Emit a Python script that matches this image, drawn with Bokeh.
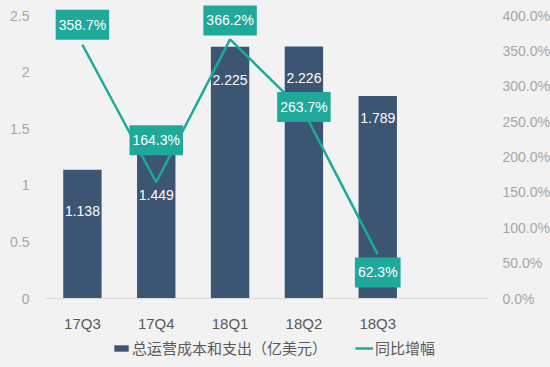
from bokeh.plotting import figure
from bokeh.layouts import column
from bokeh.models import (Range1d, LinearAxis, FixedTicker, PrintfTickFormatter,
                          Legend, LegendItem, ColumnDataSource)
from bokeh.core.properties import value
from bokeh.embed import file_html
from bokeh.resources import INLINE

quarters = ["17Q3", "17Q4", "18Q1", "18Q2", "18Q3"]
cost = [1.138, 1.449, 2.225, 2.226, 1.789]          # 总运营成本和支出（亿美元）
growth = [358.7, 164.3, 366.2, 263.7, 62.3]          # 同比增幅 (%)
left_ticks = [0, 0.5, 1, 1.5, 2, 2.5]
right_ticks = [0, 50, 100, 150, 200, 250, 300, 350, 400]
bar_name = "总运营成本和支出（亿美元）"
line_name = "同比增幅"

# label placement (pixel offsets, layout only)
cost_label_dy = [41, 61, 33, 31, 22]
growth_label_dy = [-20, -42, -19, -5, 18]

BG = "#f2f2f2"
BAR = "#3b5573"
TEAL = "#1fa99a"
NUM_FONT = "Liberation Sans"
CJK_FONT = "Noto Sans CJK SC"

FRAME_H = 298          # frame height in px (top of page to baseline)
AXIS_PX = 283          # px from baseline to top tick
scale = FRAME_H / AXIS_PX
y_top = left_ticks[-1] * scale
r_top = right_ticks[-1] * scale

xs = list(range(len(quarters)))

p = figure(frame_width=443, frame_height=FRAME_H, output_backend="svg", toolbar_location=None,
           x_range=Range1d(-0.5, 5.5), y_range=Range1d(0, y_top),
           min_border_left=45, min_border_right=62, min_border_top=0,
           min_border_bottom=37)
p.background_fill_color = BG
p.border_fill_color = BG
p.outline_line_color = None
p.grid.visible = False

p.extra_y_ranges = {"pct": Range1d(0, r_top)}

xa = p.xaxis[0]
xa.ticker = FixedTicker(ticks=xs)
xa.major_label_overrides = {i: q for i, q in enumerate(quarters)}
xa.axis_line_color = "#d9d9d9"
xa.major_tick_line_color = None
xa.minor_tick_line_color = None
xa.major_label_text_font = NUM_FONT
xa.major_label_text_font_size = "15px"
xa.major_label_text_color = "#595959"
xa.major_label_standoff = 10

ya = p.yaxis[0]
ya.ticker = FixedTicker(ticks=left_ticks)
ya.major_label_overrides = {t: f"{t:g}" for t in left_ticks}
ya.axis_line_color = None
ya.major_tick_line_color = None
ya.minor_tick_line_color = None
ya.major_label_text_font = NUM_FONT
ya.major_label_text_font_size = "14px"
ya.major_label_text_color = "#a6a6a6"
ya.major_label_standoff = 10

ra = LinearAxis(y_range_name="pct", ticker=FixedTicker(ticks=right_ticks),
                formatter=PrintfTickFormatter(format="%.1f%%"))
ra.axis_line_color = None
ra.major_tick_line_color = None
ra.minor_tick_line_color = None
ra.major_label_text_font = NUM_FONT
ra.major_label_text_font_size = "14px"
ra.major_label_text_color = "#a6a6a6"
ra.major_label_standoff = 8
p.add_layout(ra, "right")

src = ColumnDataSource(dict(
    x=xs, cost=cost, growth=growth,
    cost_txt=[f"{v:.3f}" for v in cost],
    growth_txt=[f"{v:.1f}%" for v in growth],
    cdy=cost_label_dy, gdy=growth_label_dy,
))

p.vbar(x="x", top="cost", width=0.52, source=src, fill_color=BAR, line_color=None)

p.text(x="x", y="cost", text="cost_txt", y_offset="cdy", source=src,
       text_align="center", text_baseline="middle", text_color="white",
       text_font=value(NUM_FONT), text_font_size="14px")

p.line(x="x", y="growth", source=src, y_range_name="pct",
       line_color=TEAL, line_width=2.5)

p.text(x="x", y="growth", text="growth_txt", y_offset="gdy", source=src,
       y_range_name="pct", text_align="center", text_baseline="middle",
       text_color="white", text_font=value(NUM_FONT), text_font_size="14px",
       background_fill_color=TEAL, padding=dict(left=3, right=3, top=7, bottom=7))

# legend strip (separate figure so the legend sits below the axis)
lg = figure(width=550, height=32, output_backend="svg", toolbar_location=None,
            x_range=Range1d(0, 1), y_range=Range1d(0, 1),
            x_axis_location=None, y_axis_location=None,
            min_border=0, min_border_left=45, min_border_right=62,
            min_border_top=0, min_border_bottom=0)
lg.grid.visible = False
lg.background_fill_color = BG
lg.border_fill_color = BG
lg.outline_line_color = None
dummy = ColumnDataSource(dict(x=[-10, -11], y=[-10, -11], top=[-10, -11]))
r_bar = lg.vbar(x="x", top="top", width=0.5, source=dummy, fill_color=BAR, line_color=None)
r_line = lg.line(x="x", y="y", source=dummy, line_color=TEAL, line_width=2.5)

legend = Legend(items=[LegendItem(label=bar_name, renderers=[r_bar]),
                       LegendItem(label=line_name, renderers=[r_line])],
                orientation="horizontal", location=(67, 9),
                background_fill_alpha=0, border_line_alpha=0,
                label_text_font=CJK_FONT, label_text_font_size="15px",
                label_text_color="#595959",
                glyph_width=18, glyph_height=8, label_standoff=2,
                spacing=28, padding=0, margin=0)
lg.add_layout(legend, "center")

layout = column(p, lg, spacing=0)
html = file_html(layout, INLINE)
html = html.replace("<head>", "<head><style>body{background:#f2f2f2;}</style>", 1)
open("out.html", "w").write(html)
